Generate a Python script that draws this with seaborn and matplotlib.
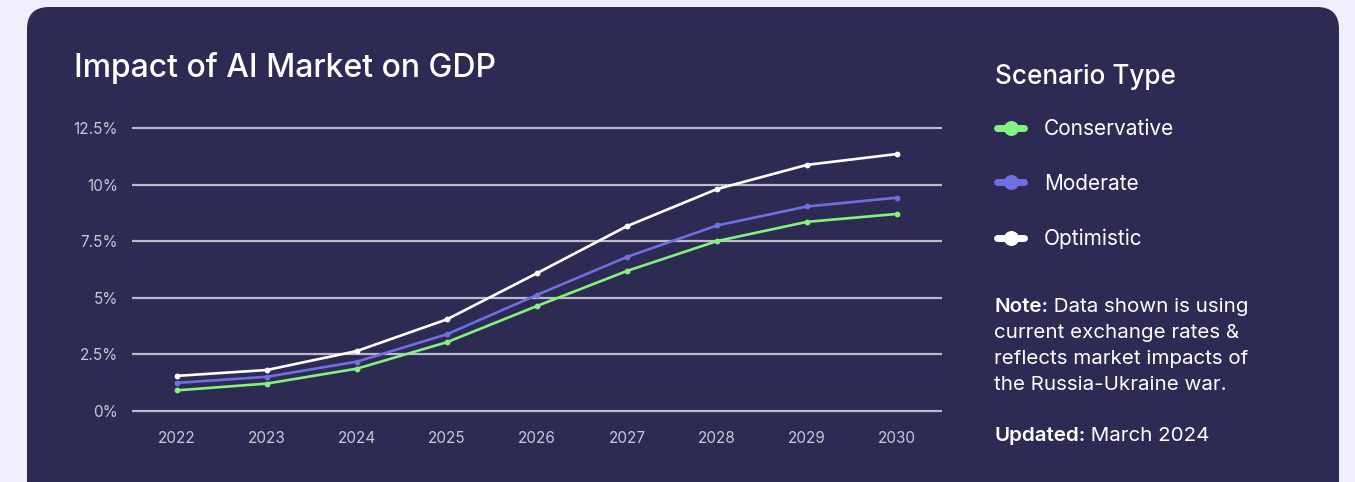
import matplotlib
matplotlib.use("Agg")
import matplotlib.pyplot as plt
from matplotlib.patches import FancyBboxPatch
from matplotlib.lines import Line2D
import seaborn as sns
import pandas as pd

years = [2022, 2023, 2024, 2025, 2026, 2027, 2028, 2029, 2030]
conservative = [0.90, 1.20, 1.86, 3.03, 4.63, 6.18, 7.50, 8.35, 8.70]
moderate = [1.23, 1.50, 2.17, 3.38, 5.12, 6.80, 8.19, 9.03, 9.42]
optimistic = [1.54, 1.80, 2.64, 4.04, 6.08, 8.16, 9.80, 10.87, 11.35]
scenarios = ["Conservative", "Moderate", "Optimistic"]
y_ticks = [0, 2.5, 5, 7.5, 10, 12.5]
y_tick_labels = ["0%", "2.5%", "5%", "7.5%", "10%", "12.5%"]

colors = {"Conservative": "#86f27e", "Moderate": "#6e70e2", "Optimistic": "#ffffff"}

df = pd.concat([
    pd.DataFrame({"Year": years, "Value": vals, "Scenario": name})
    for name, vals in zip(scenarios, [conservative, moderate, optimistic])
])

sns.set_theme(style="dark")
plt.rcParams["font.family"] = ["Inter", "DejaVu Sans"]

W, H = 1355, 482
fig = plt.figure(figsize=(W / 100, H / 100), dpi=100)
fig.patch.set_facecolor("#f0eefb")

# background card
bg = fig.add_axes([0, 0, 1, 1])
bg.set_xlim(0, W)
bg.set_ylim(H, 0)
bg.axis("off")
card = FancyBboxPatch((27, 7), 1312, 520, boxstyle="round,pad=0,rounding_size=22",
                      facecolor="#2d2a54", edgecolor="none")
bg.add_patch(card)

# main axes
px_per_unit = (410.7 - 128) / 12.5
ylo, yhi = -0.2, 12.7
bot_px = 410.7 + 0.2 * px_per_unit
top_px = 128 - 0.2 * px_per_unit
ax = fig.add_axes([132 / W, 1 - bot_px / H, 810 / W, (bot_px - top_px) / H])
ax.set_facecolor("none")

for y in y_ticks:
    ax.axhline(y, color="#bdbacb", lw=1.6, zorder=1)

sns.lineplot(data=df, x="Year", y="Value", hue="Scenario", palette=colors,
             hue_order=scenarios, marker="o", markersize=4.2, markeredgewidth=0,
             linewidth=1.9, ax=ax, legend=False, zorder=3)

ax.set_xlim(2021.5, 2030.5)
ax.set_ylim(ylo, yhi)
ax.set_xticks(years)
ax.set_xticklabels([str(y) for y in years])
ax.set_yticks(y_ticks)
ax.set_yticklabels(y_tick_labels)
ax.tick_params(axis="both", colors="#c9c7d9", labelsize=11, length=0)
ax.tick_params(axis="x", pad=11)
ax.tick_params(axis="y", pad=10)
ax.set_xlabel("")
ax.set_ylabel("")
ax.grid(False)
for s in ax.spines.values():
    s.set_visible(False)

# title
bg.text(74, 77.5, "Impact of AI Market on GDP", color="white", fontsize=23,
        fontweight=500, va="baseline", ha="left")

# legend title
bg.text(995, 84.3, "Scenario Type", color="white", fontsize=18.8,
        fontweight=500, va="baseline", ha="left")

# legend
handles = [Line2D([0], [0], color=colors[n], lw=5, marker="o", markersize=10.8,
                  markeredgewidth=0) for n in scenarios]
leg = fig.legend(handles, scenarios, loc="center left",
                 bbox_to_anchor=(997 / W, 1 - 184 / H), frameon=False,
                 fontsize=15, labelspacing=1.66,
                 handlelength=1.3, handletextpad=0.95,
                 borderaxespad=0, borderpad=0)
for t in leg.get_texts():
    t.set_color("white")

# note text
fs = 14.8
x0 = 994
nb = bg.text(x0, 311.7, "Note:", color="white", fontsize=fs, fontweight=600,
             va="baseline", ha="left")
bg.annotate(" Data shown is using", xy=(1, 0), xycoords=nb, color="white",
            fontsize=fs, va="bottom", ha="left")
for i, line in enumerate(["current exchange rates &", "reflects market impacts of",
                          "the Russia-Ukraine war."]):
    bg.text(x0, 338.0 + 25.9 * i, line, color="white", fontsize=fs,
            va="baseline", ha="left")
ub = bg.text(x0, 441, "Updated:", color="white", fontsize=fs, fontweight=600,
             va="baseline", ha="left")
bg.annotate(" March 2024", xy=(1, 0), xycoords=ub, color="white",
            fontsize=fs, va="bottom", ha="left")

fig.savefig("out.png", dpi=100, facecolor=fig.get_facecolor())
